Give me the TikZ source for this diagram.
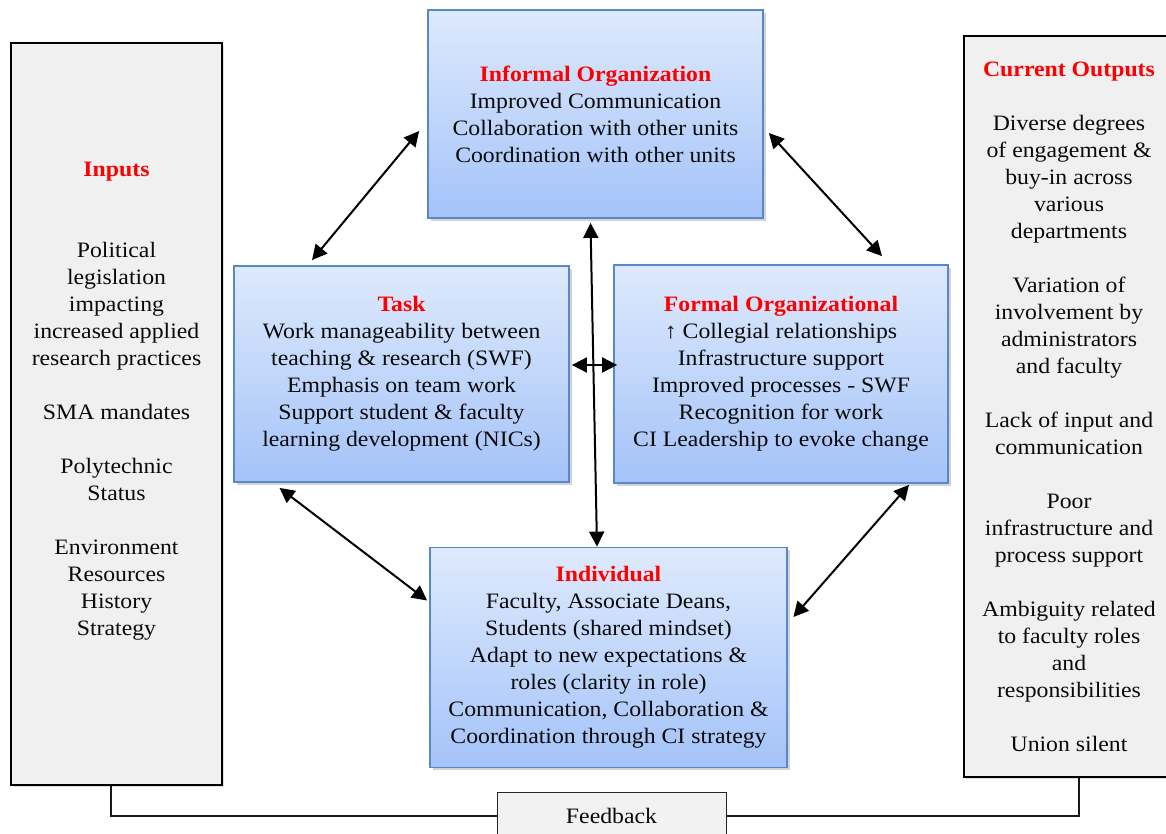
\documentclass[tikz,border=0pt]{standalone}
\usepackage{fontspec}
\setmainfont[FakeStretch=1.08]{Liberation Serif}
\usetikzlibrary{arrows.meta,shadows}

\definecolor{boxtop}{RGB}{222,234,252}
\definecolor{boxbot}{RGB}{164,195,249}
\definecolor{boxline}{RGB}{88,136,200}
\definecolor{panel}{RGB}{240,240,240}
\definecolor{fbfill}{RGB}{242,242,242}
\definecolor{headred}{RGB}{255,0,0}
\definecolor{ink}{RGB}{10,10,10}

\newcommand{\hd}[1]{\textcolor{headred}{\textbf{#1}}}

\tikzset{
  every node/.style={font=\fontsize{22}{27}\selectfont, text=ink, align=center, inner sep=0pt},
  factor/.style={draw=boxline, line width=1.8pt, top color=boxtop, bottom color=boxbot,
    drop shadow={shadow xshift=2.5pt, shadow yshift=-2.5pt, opacity=0.35}},
  panelbox/.style={draw=black, line width=2.5pt, fill=panel,
    drop shadow={shadow xshift=2pt, shadow yshift=-2pt, opacity=0.25}},
  fbbox/.style={draw=black!85, line width=1pt, fill=fbfill},
  link/.style={line width=2pt, {Triangle[length=15pt,width=15pt]}-{Triangle[length=15pt,width=15pt]}},
  feed/.style={line width=1.6pt, draw=black!90},
}

\begin{document}
\begin{tikzpicture}[x=1pt, y=-1pt]
\useasboundingbox (0,0) rectangle (1166,833);

% side panels
\node[panelbox, minimum width=211pt, minimum height=742pt] (inp) at (116.5,414) {};
\node (inptxt) at (116.5,401) {\hd{Inputs}\\[54pt]Political\\legislation\\impacting\\increased applied\\research practices\\[27pt]SMA mandates\\[27pt]Polytechnic\\Status\\[27pt]Environment\\Resources\\History\\Strategy};

\node[panelbox, minimum width=210pt, minimum height=741pt] (out) at (1069,406.5)
  {\hd{Current Outputs}\\[27pt]Diverse degrees\\of engagement \&\\buy-in across\\various\\departments\\[27pt]Variation of\\involvement by\\administrators\\and faculty\\[27pt]Lack of input and\\communication\\[27pt]Poor\\infrastructure and\\process support\\[27pt]Ambiguity related\\to faculty roles\\and\\responsibilities\\[27pt]Union silent};

% the four components
\node[factor, minimum width=335pt, minimum height=208pt] (inf) at (595.5,114)
  {\hd{Informal Organization}\\Improved Communication\\Collaboration with other units\\Coordination with other units};

\node[factor, minimum width=335pt, minimum height=216pt] (task) at (401.5,374)
  {\hd{Task}\\Work manageability between\\teaching \& research (SWF)\\Emphasis on team work\\Support student \& faculty\\learning development (NICs)};

\node[factor, minimum width=334pt, minimum height=218pt] (form) at (781,374)
  {\hd{Formal Organizational}\\↑ Collegial relationships\\Infrastructure support\\Improved processes - SWF\\Recognition for work\\CI Leadership to evoke change};

\node[factor, minimum width=357pt, minimum height=220pt] (ind) at (608.5,657.5)
  {\hd{Individual}\\Faculty, Associate Deans,\\Students (shared mindset)\\Adapt to new expectations \&\\roles (clarity in role)\\Communication, Collaboration \&\\Coordination through CI strategy};

% feedback
\node[fbbox, minimum width=229pt, minimum height=48pt] (fb) at (611.5,816) {Feedback};

% mutual influences
\draw[link] ([shift={(-8,17)}]inf.west) -- ([shift={(-89.5,-5)}]task.north);
\draw[link] ([shift={(5,19)}]inf.east) -- ([shift={(101,-8)}]form.north);
\draw[link] ([shift={(-122,5)}]task.south) -- ([shift={(-2,-57)}]ind.west);
\draw[link] ([shift={(128,1)}]form.south) -- ([shift={(5.5,-40.5)}]ind.east);
\draw[link] ([shift={(-5,4)}]inf.south) -- ([shift={(-11.5,0)}]ind.north);
\draw[link] ([shift={(2,-9)}]task.east) -- ([shift={(4,-9)}]form.west);

% feedback loop
\draw[feed] ([xshift=-5.5pt]inp.south) |- (fb.west);
\draw[feed] ([xshift=10pt]out.south) |- (fb.east);
\end{tikzpicture}
\end{document}
